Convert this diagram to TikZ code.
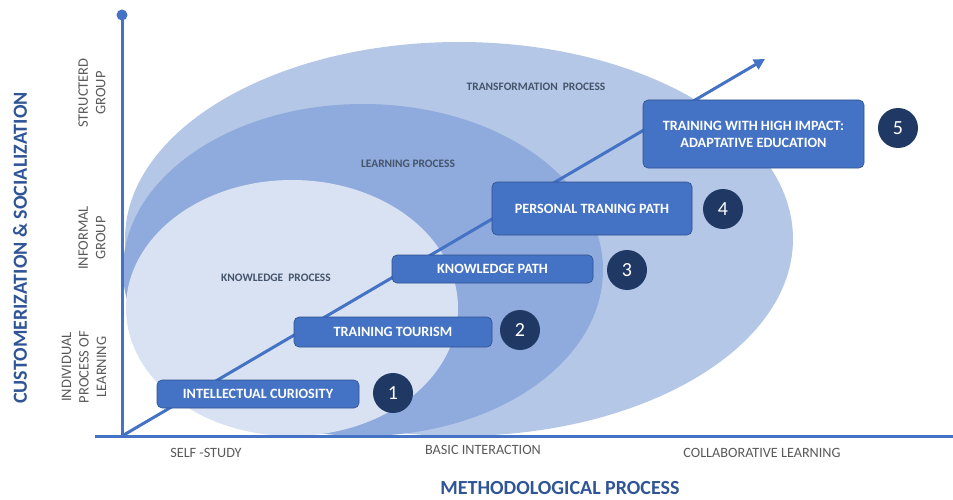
\documentclass[tikz,border=0pt]{standalone}
\usepackage{fontspec}
\setmainfont{Carlito}
\usetikzlibrary{arrows.meta}
\definecolor{outerfill}{HTML}{B4C7E7}
\definecolor{midfill}{HTML}{8FAADC}
\definecolor{innerfill}{HTML}{D9E2F3}
\definecolor{axisblue}{HTML}{4472C4}
\definecolor{boxfill}{HTML}{4472C4}
\definecolor{boxline}{HTML}{2F528F}
\definecolor{navy}{HTML}{203864}
\definecolor{titleblue}{HTML}{2F5597}
\definecolor{regiontext}{HTML}{44546A}
\definecolor{ticktext}{HTML}{595959}
\tikzset{
  stagebox/.style={draw=boxline, line width=0.6pt, fill=boxfill, rounded corners=5pt,
    text=white, font=\fontsize{14.2}{17}\selectfont\bfseries, align=center, inner sep=0pt},
  stepnum/.style={circle, fill=navy, text=white, minimum size=40pt, inner sep=0pt,
    font=\fontsize{20}{20}\selectfont},
  regionlabel/.style={text=regiontext, font=\fontsize{11.4}{13}\selectfont\bfseries},
  ticklabel/.style={text=ticktext, font=\fontsize{14.2}{16}\selectfont},
  sidelabel/.style={text=ticktext, font=\fontsize{14.5}{17.5}\selectfont, align=center, rotate=90},
  axistitle/.style={text=titleblue, font=\fontsize{20}{22}\selectfont\bfseries},
  axisline/.style={draw=axisblue, line width=3pt}
}
\begin{document}
\begin{tikzpicture}[x=1pt,y=-1pt]
\useasboundingbox (0,0) rectangle (953,500);

% nested process areas
\fill[outerfill] (459,239) ellipse [x radius=334pt, y radius=197pt];
\fill[midfill] (363,270) ellipse [x radius=240pt, y radius=166pt];
\fill[innerfill] (292,308) ellipse [x radius=166pt, y radius=128pt];

\node[regionlabel] (tp) at (536,87) {TRANSFORMATION\ \ PROCESS};
\node[regionlabel] (lp) at (408,164) {LEARNING PROCESS};
\node[regionlabel] (kp) at (276,278) {KNOWLEDGE\ \ PROCESS};

% axes
\coordinate (origin) at (122,436);
\coordinate (ytop) at (122,15);
\coordinate (xleft) at (95,436);
\coordinate (xright) at (953,436);
\coordinate (tip) at (765,59);
\draw[axisline] (xleft) -- (xright);
\draw[axisline] (origin) -- (ytop);
\fill[axisblue] (ytop) circle (5.5pt);

% growth arrow
\draw[draw=axisblue, line width=3pt, -{Triangle[length=11pt,width=11pt]}] (origin) -- (tip);

% stages
\node[stagebox, minimum width=202pt, minimum height=28pt] (s1) at (258,394) {INTELLECTUAL CURIOSITY};
\node[stagebox, minimum width=198pt, minimum height=30pt] (s2) at (393,332) {TRAINING TOURISM};
\node[stagebox, minimum width=201pt, minimum height=28pt] (s3) at (492.5,269) {KNOWLEDGE PATH};
\node[stagebox, minimum width=200pt, minimum height=53pt] (s4) at (592,208.5) {PERSONAL TRANING PATH};
\node[stagebox, minimum width=221pt, minimum height=68pt] (s5) at (753.5,134) {TRAINING WITH HIGH IMPACT:\\ADAPTATIVE EDUCATION};

\node[stepnum] (n1) at (393,393) {1};
\node[stepnum] (n2) at (520,330) {2};
\node[stepnum] (n3) at (627,270) {3};
\node[stepnum] (n4) at (723,209) {4};
\node[stepnum] (n5) at (898,128) {5};

% horizontal axis labels
\node[ticklabel] (selfstudy) at (206,453) {SELF -STUDY};
\node[ticklabel] (basic) at (483,450) {BASIC INTERACTION};
\node[ticklabel] (collab) at (762,453) {COLLABORATIVE LEARNING};
\node[axistitle] (xtitle) at (560,488) {METHODOLOGICAL PROCESS};

% vertical axis labels
\node[sidelabel] (structured) at (92,93) {STRUCTERD\\GROUP};
\node[sidelabel] (informal) at (92,238) {INFORMAL\\GROUP};
\node[sidelabel] (individual) at (84,367) {INDIVIDUAL\\PROCESS OF\\LEARNING};
\node[axistitle, rotate=90] (ytitle) at (20,248) {CUSTOMERIZATION \& SOCIALIZATION};
\end{tikzpicture}
\end{document}
